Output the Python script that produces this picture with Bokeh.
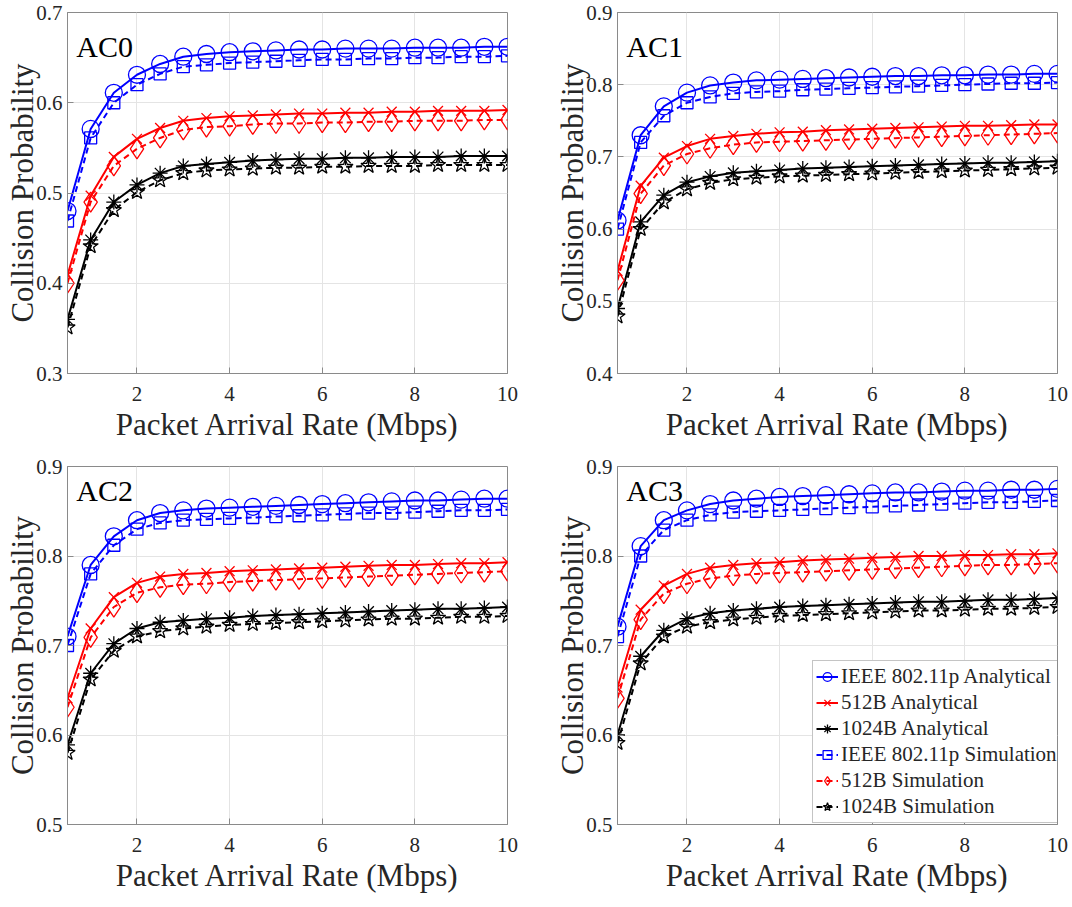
from bokeh.plotting import figure
from bokeh.layouts import column, row
from bokeh.models import Range1d, FixedTicker, Legend, LegendItem, Label
from bokeh.embed import file_html
from bokeh.resources import INLINE

# Packet arrival rate (Mbps)
rate = [0.5, 1.0, 1.5, 2.0, 2.5, 3.0, 3.5, 4.0, 4.5, 5.0,
        5.5, 6.0, 6.5, 7.0, 7.5, 8.0, 8.5, 9.0, 9.5, 10.0]

# ---- AC0 ----
ac0_std_ana = [0.480, 0.571, 0.611, 0.631, 0.643, 0.651, 0.654, 0.656, 0.657, 0.658,
               0.659, 0.659, 0.660, 0.660, 0.660, 0.661, 0.661, 0.661, 0.662, 0.662]
ac0_512_ana = [0.409, 0.497, 0.540, 0.560, 0.572, 0.580, 0.583, 0.585, 0.586, 0.587,
               0.588, 0.588, 0.589, 0.589, 0.590, 0.590, 0.591, 0.591, 0.591, 0.592]
ac0_1024_ana = [0.360, 0.448, 0.490, 0.509, 0.522, 0.530, 0.532, 0.534, 0.536, 0.537,
                0.538, 0.538, 0.539, 0.539, 0.540, 0.540, 0.540, 0.541, 0.541, 0.541]
ac0_std_sim = [0.469, 0.561, 0.600, 0.620, 0.632, 0.640, 0.642, 0.644, 0.645, 0.646,
               0.647, 0.648, 0.648, 0.649, 0.649, 0.650, 0.650, 0.651, 0.651, 0.652]
ac0_512_sim = [0.400, 0.490, 0.530, 0.549, 0.561, 0.570, 0.573, 0.574, 0.576, 0.577,
               0.577, 0.578, 0.578, 0.579, 0.579, 0.580, 0.580, 0.580, 0.581, 0.581]
ac0_1024_sim = [0.351, 0.441, 0.481, 0.501, 0.514, 0.522, 0.525, 0.526, 0.527, 0.528,
                0.528, 0.529, 0.529, 0.530, 0.530, 0.530, 0.531, 0.531, 0.531, 0.531]

# ---- AC1 ----
ac1_std_ana = [0.612, 0.730, 0.770, 0.789, 0.799, 0.803, 0.806, 0.807, 0.808, 0.809,
               0.810, 0.811, 0.812, 0.812, 0.813, 0.813, 0.814, 0.814, 0.815, 0.815]
ac1_512_ana = [0.542, 0.660, 0.699, 0.715, 0.725, 0.729, 0.732, 0.734, 0.735, 0.737,
               0.738, 0.739, 0.740, 0.741, 0.742, 0.743, 0.743, 0.744, 0.745, 0.745]
ac1_1024_ana = [0.490, 0.610, 0.647, 0.665, 0.673, 0.678, 0.680, 0.682, 0.684, 0.685,
                0.686, 0.687, 0.688, 0.689, 0.690, 0.691, 0.692, 0.692, 0.693, 0.694]
ac1_std_sim = [0.600, 0.720, 0.757, 0.775, 0.783, 0.788, 0.790, 0.791, 0.793, 0.794,
               0.795, 0.796, 0.797, 0.798, 0.799, 0.800, 0.801, 0.802, 0.802, 0.803]
ac1_512_sim = [0.529, 0.649, 0.688, 0.704, 0.712, 0.717, 0.720, 0.721, 0.722, 0.723,
               0.724, 0.725, 0.726, 0.727, 0.728, 0.729, 0.730, 0.731, 0.732, 0.733]
ac1_1024_sim = [0.479, 0.600, 0.637, 0.655, 0.664, 0.669, 0.671, 0.673, 0.674, 0.675,
                0.676, 0.677, 0.678, 0.679, 0.680, 0.681, 0.682, 0.683, 0.684, 0.685]

# ---- AC2 ----
ac2_std_ana = [0.710, 0.790, 0.822, 0.840, 0.848, 0.851, 0.853, 0.854, 0.855, 0.856,
               0.857, 0.858, 0.859, 0.860, 0.861, 0.862, 0.862, 0.863, 0.864, 0.864]
ac2_512_ana = [0.641, 0.719, 0.754, 0.770, 0.777, 0.780, 0.781, 0.783, 0.784, 0.785,
               0.786, 0.787, 0.788, 0.789, 0.790, 0.790, 0.791, 0.792, 0.792, 0.793]
ac2_1024_ana = [0.589, 0.669, 0.702, 0.719, 0.726, 0.728, 0.730, 0.731, 0.733, 0.734,
                0.735, 0.736, 0.737, 0.738, 0.739, 0.740, 0.741, 0.741, 0.742, 0.743]
ac2_std_sim = [0.700, 0.780, 0.812, 0.830, 0.837, 0.840, 0.841, 0.842, 0.843, 0.844,
               0.845, 0.846, 0.847, 0.848, 0.848, 0.849, 0.850, 0.851, 0.851, 0.852]
ac2_512_sim = [0.631, 0.709, 0.743, 0.759, 0.765, 0.768, 0.769, 0.771, 0.772, 0.773,
               0.774, 0.775, 0.776, 0.777, 0.778, 0.779, 0.780, 0.781, 0.782, 0.783]
ac2_1024_sim = [0.580, 0.662, 0.694, 0.710, 0.716, 0.719, 0.721, 0.723, 0.724, 0.725,
                0.726, 0.727, 0.728, 0.729, 0.730, 0.730, 0.731, 0.732, 0.732, 0.733]

# ---- AC3 ----
ac3_std_ana = [0.721, 0.811, 0.840, 0.851, 0.858, 0.862, 0.864, 0.866, 0.867, 0.868,
               0.869, 0.870, 0.871, 0.871, 0.872, 0.873, 0.873, 0.874, 0.874, 0.875]
ac3_512_ana = [0.653, 0.740, 0.767, 0.780, 0.787, 0.790, 0.792, 0.793, 0.795, 0.796,
               0.797, 0.798, 0.799, 0.800, 0.800, 0.801, 0.801, 0.802, 0.802, 0.803]
ac3_1024_ana = [0.600, 0.688, 0.717, 0.730, 0.736, 0.739, 0.741, 0.743, 0.744, 0.745,
                0.746, 0.747, 0.748, 0.749, 0.749, 0.750, 0.751, 0.751, 0.752, 0.753]
ac3_std_sim = [0.710, 0.800, 0.829, 0.840, 0.846, 0.849, 0.850, 0.851, 0.852, 0.853,
               0.854, 0.855, 0.856, 0.857, 0.858, 0.859, 0.860, 0.860, 0.861, 0.862]
ac3_512_sim = [0.641, 0.729, 0.758, 0.769, 0.775, 0.778, 0.780, 0.781, 0.782, 0.783,
               0.784, 0.785, 0.786, 0.787, 0.788, 0.789, 0.790, 0.790, 0.791, 0.792]
ac3_1024_sim = [0.591, 0.680, 0.710, 0.721, 0.726, 0.729, 0.731, 0.733, 0.734, 0.735,
                0.736, 0.737, 0.738, 0.739, 0.739, 0.740, 0.741, 0.741, 0.742, 0.743]

series_labels = ["IEEE 802.11p Analytical", "512B Analytical", "1024B Analytical",
                 "IEEE 802.11p Simulation", "512B Simulation", "1024B Simulation"]

x_ticks = [2, 4, 6, 8, 10]
ac0_yticks = [0.3, 0.4, 0.5, 0.6, 0.7]
ac1_yticks = [0.4, 0.5, 0.6, 0.7, 0.8, 0.9]
ac23_yticks = [0.5, 0.6, 0.7, 0.8, 0.9]

FONT = "Liberation Serif"
AXC = "#8a8a8a"
TXT = "#262626"

# colour, dash, marker, marker size for each of the six curves
STYLES = [
    ("#0000ff", "solid", "circle", 17),
    ("#ff0000", "solid", "x", 14),
    ("#000000", "solid", "asterisk", 15),
    ("#0000ff", "6 4", "square", 12),
    ("#ff0000", "6 4", "diamond", 20),
    ("#000000", "6 4", "star", 16),
]


def make_panel(name, curves, ylo, yhi, yticks, label_y, borders, frame_h, with_legend=False):
    left, right, top, bottom = borders
    p = figure(frame_width=440, frame_height=frame_h,
               min_border_left=left, min_border_right=right,
               min_border_top=top, min_border_bottom=bottom,
               x_range=Range1d(0.5, 10), y_range=Range1d(ylo, yhi),
               output_backend="svg", toolbar_location=None)
    p.background_fill_color = "white"
    p.border_fill_color = "white"
    p.outline_line_color = AXC
    p.outline_line_width = 1

    p.xaxis.ticker = FixedTicker(ticks=x_ticks)
    p.yaxis.ticker = FixedTicker(ticks=yticks)
    p.xaxis.axis_label = "Packet Arrival Rate (Mbps)"
    p.yaxis.axis_label = "Collision Probability"
    for ax in (p.xaxis[0], p.yaxis[0]):
        ax.axis_line_color = AXC
        ax.major_tick_line_color = AXC
        ax.major_tick_in = 6
        ax.major_tick_out = 0
        ax.minor_tick_line_color = None
        ax.major_label_text_font = FONT
        ax.major_label_text_font_size = "21px"
        ax.major_label_text_color = TXT
        ax.axis_label_text_font = FONT
        ax.axis_label_text_font_size = "31px"
        ax.axis_label_text_font_style = "normal"
        ax.axis_label_text_color = TXT
    p.xaxis.major_label_standoff = 13
    p.xaxis.axis_label_standoff = 3
    p.yaxis.major_label_standoff = 5
    p.yaxis.axis_label_standoff = -7

    p.xgrid.grid_line_color = "#e4e4e4"
    p.ygrid.grid_line_color = "#e4e4e4"

    items = []
    for lab, ys, (col, dash, mk, sz) in zip(series_labels, curves, STYLES):
        ln = p.line(rate, ys, line_color=col, line_width=2, line_dash=dash)
        sc = p.scatter(rate, ys, marker=mk, size=sz, line_color=col,
                       fill_color=None, line_width=1.3)
        items.append(LegendItem(label=lab, renderers=[ln, sc]))

    p.add_layout(Label(x=0.5 + 0.02 * 9.5, y=label_y, text=name,
                       text_font=FONT, text_font_size="30px", text_color="black",
                       text_baseline="alphabetic"))

    if with_legend:
        leg = Legend(items=items, location=(195, 1),
                     label_text_font=FONT, label_text_font_size="21px",
                     label_text_color=TXT, glyph_width=22, glyph_height=23,
                     label_height=23, spacing=1, padding=3, margin=0,
                     label_standoff=3, border_line_color=AXC,
                     background_fill_color="white", background_fill_alpha=1.0)
        p.add_layout(leg)
    return p


p0 = make_panel("AC0", [ac0_std_ana, ac0_512_ana, ac0_1024_ana,
                        ac0_std_sim, ac0_512_sim, ac0_1024_sim],
                0.3, 0.7, ac0_yticks, 0.662, (67, 43, 12, 80), 361)
p1 = make_panel("AC1", [ac1_std_ana, ac1_512_ana, ac1_1024_ana,
                        ac1_std_sim, ac1_512_sim, ac1_1024_sim],
                0.4, 0.9, ac1_yticks, 0.853, (67, 15, 12, 80), 361)
p2 = make_panel("AC2", [ac2_std_ana, ac2_512_ana, ac2_1024_ana,
                        ac2_std_sim, ac2_512_sim, ac2_1024_sim],
                0.5, 0.9, ac23_yticks, 0.873, (67, 43, 13, 83), 358)
p3 = make_panel("AC3", [ac3_std_ana, ac3_512_ana, ac3_1024_ana,
                        ac3_std_sim, ac3_512_sim, ac3_1024_sim],
                0.5, 0.9, ac23_yticks, 0.873, (67, 15, 13, 83), 358, with_legend=True)

layout = column(row(p0, p1), row(p2, p3))

with open("out.html", "w") as f:
    f.write(file_html(layout, INLINE))
